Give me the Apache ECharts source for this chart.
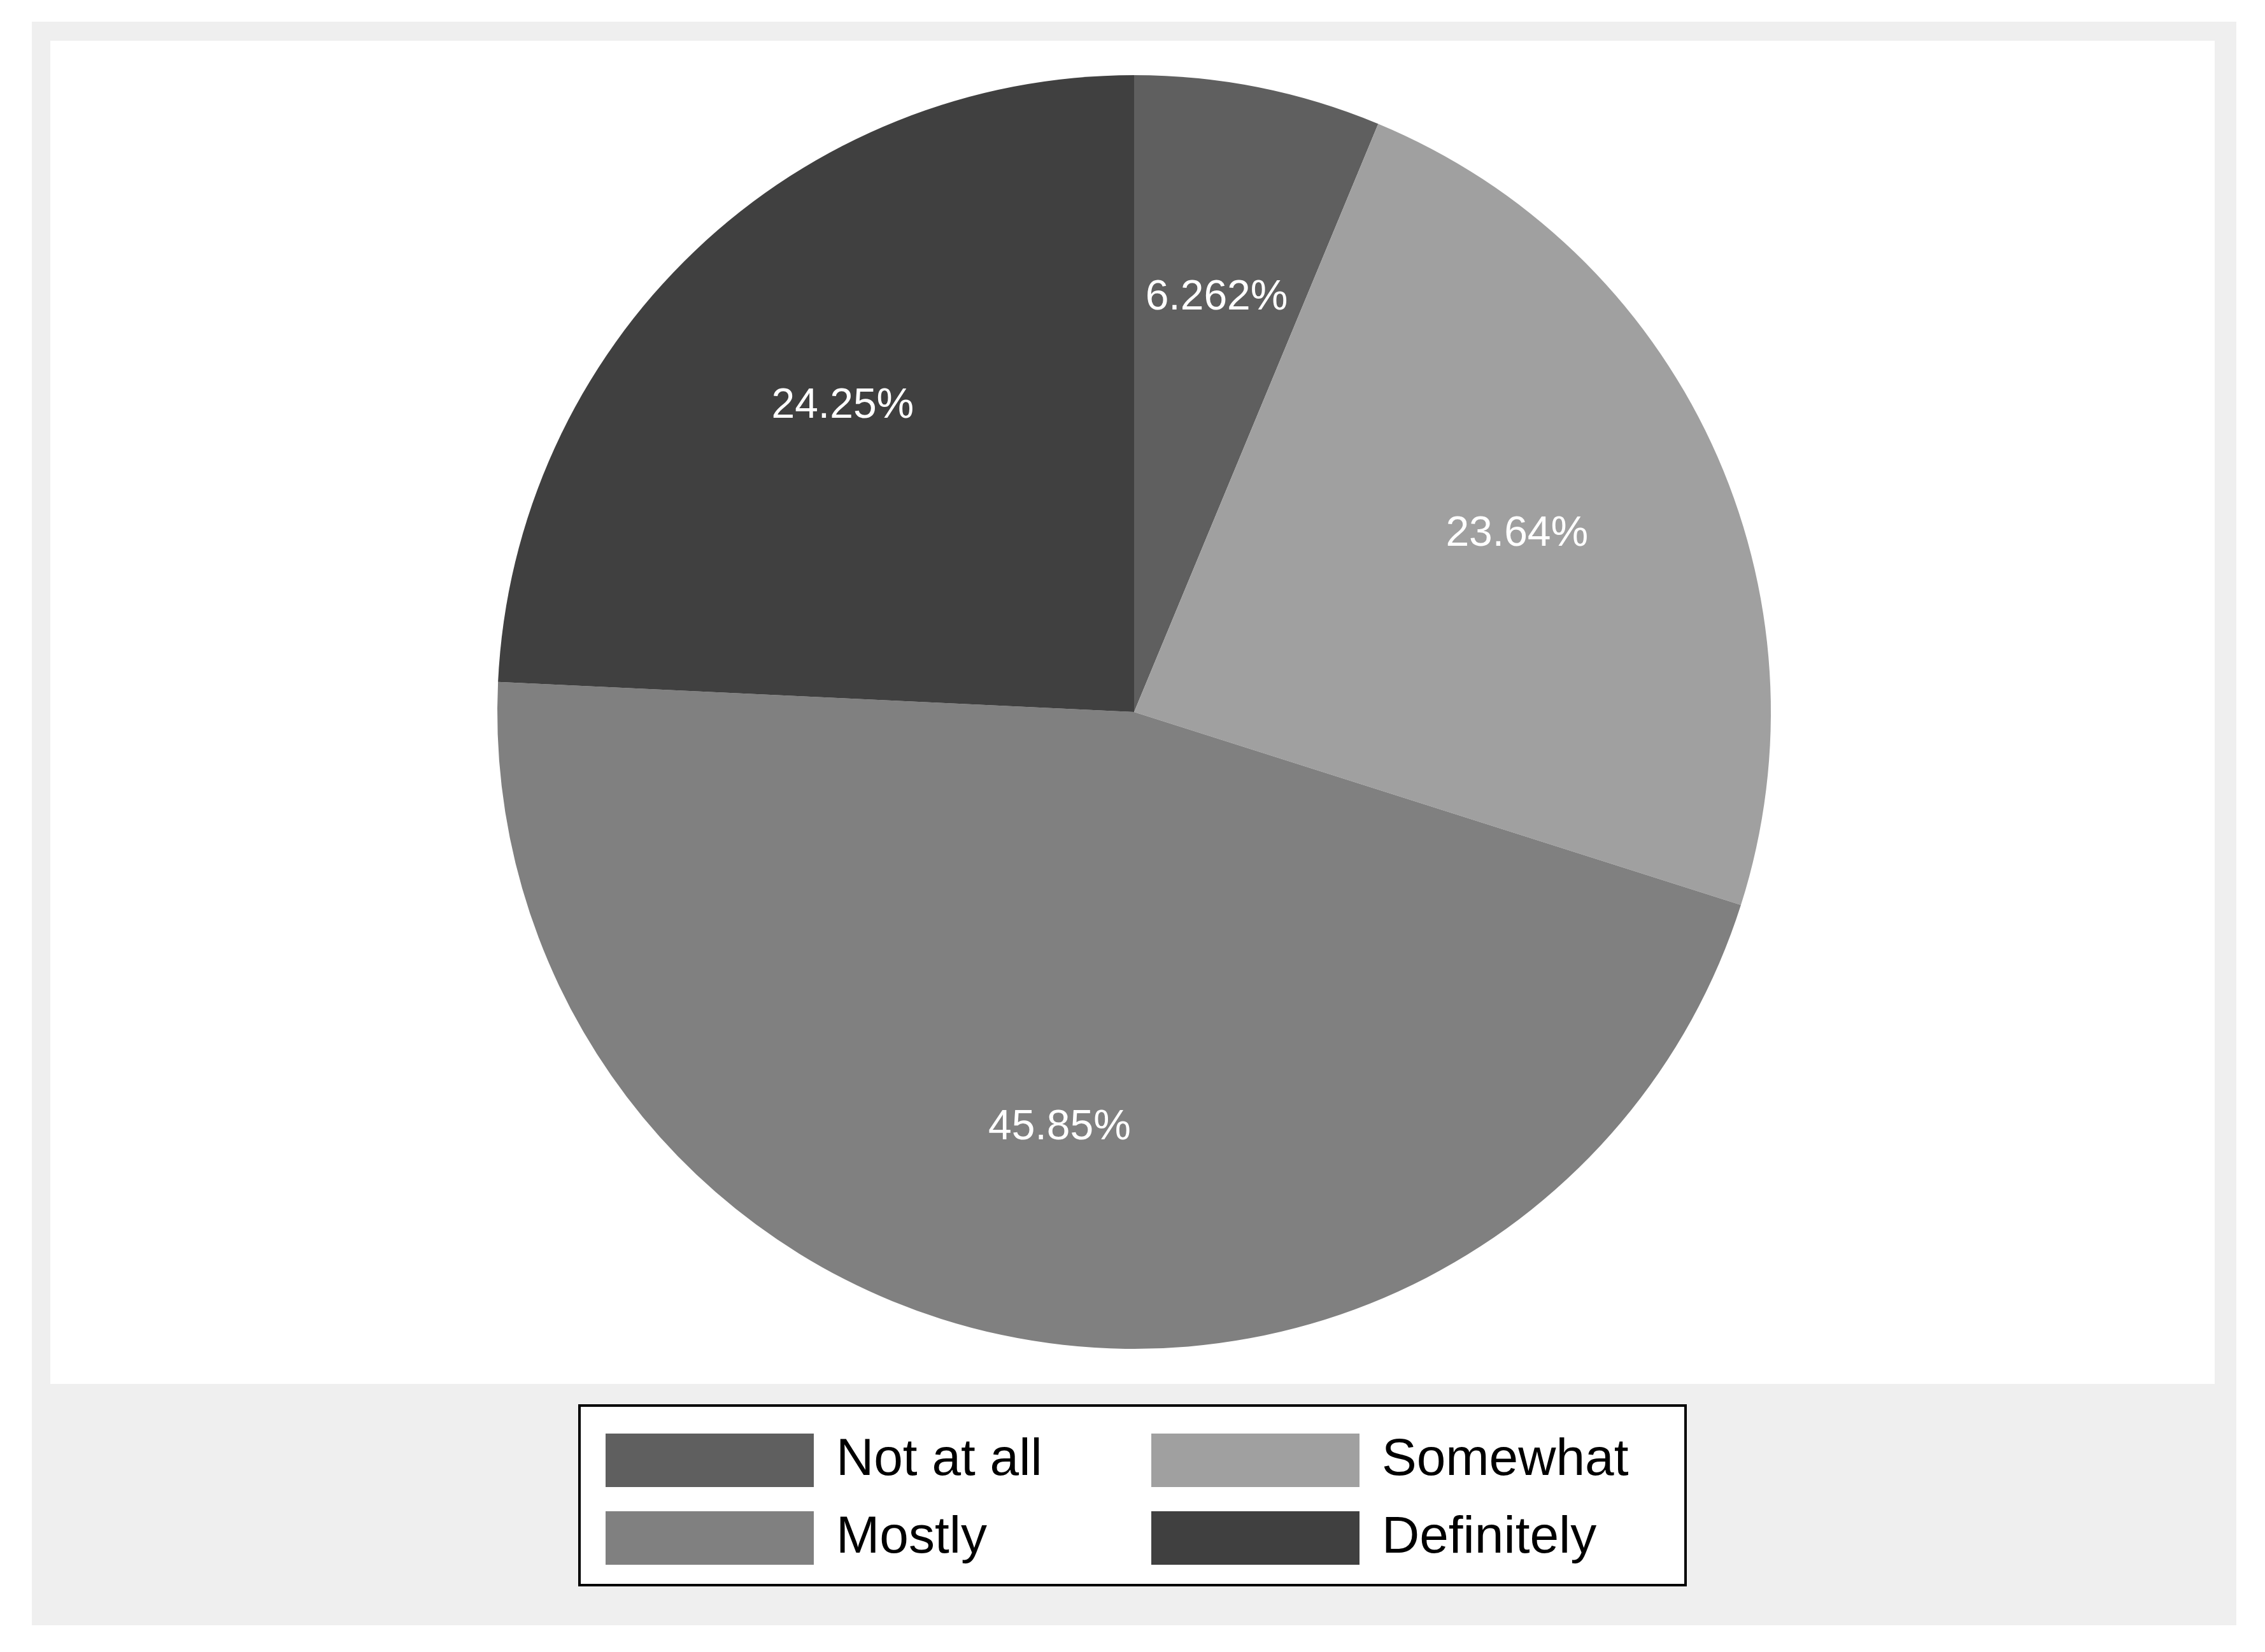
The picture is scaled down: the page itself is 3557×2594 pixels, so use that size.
<!DOCTYPE html>
<html>
<head>
<meta charset="utf-8">
<script src="https://cdn.jsdelivr.net/npm/echarts@6/dist/echarts.min.js"></script>
<style>html,body{margin:0;padding:0;background:#fff}#main{width:3557px;height:2594px}</style>
</head>
<body>
<div id="main"></div>
<script>
var categories = ['Not at all', 'Somewhat', 'Mostly', 'Definitely'];
var shares = [6.262, 23.64, 45.85, 24.25];
var labels = ['6.262%', '23.64%', '45.85%', '24.25%'];
var colors = ['#5f5f5f', '#a0a0a0', '#808080', '#404040'];

var chart = echarts.init(document.getElementById('main'));
var font = 'Liberation Sans, Arial, sans-serif';

var pieData = categories.map(function (c, i) {
  return { name: c, value: shares[i], itemStyle: { color: colors[i] } };
});
// invisible ring only used to place the labels further out
var labelData = categories.map(function (c, i) {
  return { name: c, value: shares[i], label: { formatter: labels[i] } };
});

chart.setOption({
  animation: false,
  graphic: [
    { type: 'rect', z: -10, shape: { x: 50, y: 34, width: 3462, height: 2518 }, style: { fill: '#efefef' } },
    { type: 'rect', z: -9, shape: { x: 79, y: 64, width: 3399, height: 2109 }, style: { fill: '#ffffff' } },
    { type: 'rect', z: -8, shape: { x: 910, y: 2207, width: 1737, height: 282 }, style: { fill: '#ffffff', stroke: '#000', lineWidth: 4 } }
  ],
  legend: [
    {
      data: ['Not at all', 'Mostly'], orient: 'vertical', left: 946, top: 2246,
      itemWidth: 327, itemHeight: 84, itemGap: 38, itemStyle: { borderWidth: 0 },
      textStyle: { fontSize: 82, fontFamily: font, color: '#000', padding: [0, 0, 0, 30] }, icon: 'rect'
    },
    {
      data: ['Somewhat', 'Definitely'], orient: 'vertical', left: 1803, top: 2246,
      itemWidth: 327, itemHeight: 84, itemGap: 38, itemStyle: { borderWidth: 0 },
      textStyle: { fontSize: 82, fontFamily: font, color: '#000', padding: [0, 0, 0, 30] }, icon: 'rect'
    }
  ],
  series: [
    {
      type: 'pie', center: [1781, 1118], radius: [0, 1000], startAngle: 90, clockwise: true,
      label: { show: false }, labelLine: { show: false }, silent: true,
      itemStyle: { borderWidth: 0 },
      data: pieData
    },
    {
      type: 'pie', center: [1781, 1118], radius: [320, 1000], startAngle: 90, clockwise: true,
      itemStyle: { color: 'rgba(0,0,0,0)', borderWidth: 0 }, silent: true,
      legendHoverLink: false,
      label: { show: true, position: 'inside', color: '#fff', fontSize: 66, fontFamily: font },
      labelLine: { show: false },
      data: labelData
    }
  ]
});
</script>
</body>
</html>
